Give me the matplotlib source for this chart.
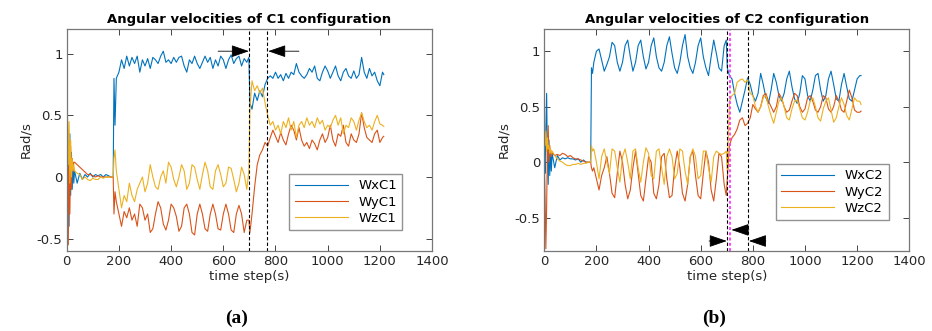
import numpy as np
import matplotlib
matplotlib.use("Agg")
import matplotlib.pyplot as plt

# time steps (same grid for every series)
t = np.r_[0:30:3, 30:180:10, [178, 181, 185], 190:700:10, [698, 702], 710:1220:10, [1215]]
t = np.sort(t)

# ---- C1 configuration ----
wx_c1 = [0.05, -0.55, 0.3, -0.4, 0.35, -0.15, 0.2, -0.1, 0.1, -0.05,
         0.05, -0.05, 0.03, -0.02, 0.02, 0.0, 0.03, 0.0, 0.02, 0.01, 0.02, 0.0, 0.02, 0.01, 0.0,
         0.0, 0.8, 0.42,
         0.8, 0.85, 0.95, 0.88, 0.98, 0.9, 0.97, 0.92, 0.98, 0.85, 0.95, 0.9, 0.96, 0.88, 0.97, 0.95,
         0.92, 0.98, 1.02, 0.93, 0.95, 0.92, 0.97, 0.93, 0.97, 0.98, 0.9, 0.85, 0.95, 0.92, 0.98, 0.92,
         0.88, 0.93, 0.98, 0.93, 0.97, 0.88, 0.95, 0.9, 0.98, 0.95, 0.88, 0.95, 0.99, 0.92, 0.96, 0.98,
         0.9, 0.96, 0.93,
         0.97, 0.6,
         0.55, 0.68, 0.62, 0.7, 0.65, 0.75, 0.8, 0.82, 0.8, 0.85, 0.8, 0.83, 0.78, 0.84, 0.8, 0.85,
         0.83, 0.92, 0.85, 0.82, 0.8, 0.83, 0.88, 0.85, 0.9, 0.8, 0.78, 0.85, 0.9, 0.86, 0.8, 0.85,
         0.9, 0.82, 0.78, 0.85, 0.88, 0.82, 0.8, 0.86, 0.8, 0.83, 0.97, 0.85, 0.8, 0.88, 0.82, 0.85,
         0.78, 0.74, 0.85,
         0.83]
wy_c1 = [0.0, 0.3, -0.55, 0.3, -0.3, 0.25, -0.1, 0.15, 0.05, 0.12,
         0.12, 0.1, 0.08, 0.06, 0.04, 0.02, 0.02, 0.01, 0.0, 0.01, 0.0, 0.0, 0.0, 0.0, 0.0,
         0.0, -0.3, -0.12,
         -0.2, -0.3, -0.4, -0.28, -0.33, -0.25, -0.35, -0.3, -0.4, -0.22, -0.25, -0.35, -0.3, -0.45,
         -0.42, -0.3, -0.2, -0.25, -0.38, -0.43, -0.35, -0.22, -0.25, -0.32, -0.44, -0.4, -0.25, -0.22,
         -0.3, -0.45, -0.47, -0.3, -0.22, -0.3, -0.42, -0.44, -0.3, -0.22, -0.3, -0.42, -0.43, -0.3,
         -0.22, -0.3, -0.43, -0.45, -0.3, -0.23, -0.3, -0.45, -0.35,
         -0.35, -0.45,
         -0.3, -0.08, 0.1, 0.18, 0.22, 0.28, 0.25, 0.32, 0.38, 0.33, 0.28, 0.36, 0.3, 0.26, 0.35, 0.42,
         0.38, 0.3, 0.4, 0.3, 0.25, 0.28, 0.23, 0.3, 0.27, 0.22, 0.3, 0.35, 0.28, 0.32, 0.42, 0.3,
         0.25, 0.35, 0.33, 0.42, 0.28, 0.25, 0.35, 0.3, 0.28, 0.35, 0.52, 0.4, 0.32, 0.3, 0.28, 0.35,
         0.38, 0.28, 0.32,
         0.33]
wz_c1 = [0.4, 0.5, 0.1, 0.45, -0.05, 0.3, 0.0, 0.15, 0.05, 0.1,
         0.05, 0.03, 0.02, -0.02, 0.0, -0.02, -0.03, -0.01, -0.02, -0.02, 0.0, -0.01, 0.0, 0.0, 0.0,
         0.0, 0.15, 0.22,
         0.05, -0.1, -0.25, -0.15, -0.2, -0.05, -0.15, -0.2, -0.1, -0.05, 0.0, -0.12, -0.05, 0.1, 0.0,
         -0.08, -0.1, 0.0, 0.05, -0.05, 0.12, 0.08, -0.02, -0.08, 0.0, 0.1, 0.05, -0.1, -0.05, 0.1,
         0.08, -0.02, -0.1, 0.02, 0.12, 0.05, -0.08, -0.1, 0.05, 0.1, 0.02, -0.08, -0.05, 0.08, 0.07,
         -0.02, -0.12, -0.05, 0.08, 0.02, -0.1,
         0.05, 0.55,
         0.78, 0.7, 0.74, 0.68, 0.72, 0.6, 0.5, 0.42, 0.45, 0.38, 0.42, 0.35, 0.45, 0.4, 0.48, 0.38,
         0.45, 0.32, 0.42, 0.45, 0.4, 0.48, 0.42, 0.45, 0.4, 0.48, 0.43, 0.46, 0.38, 0.42, 0.4, 0.46,
         0.5, 0.42, 0.48, 0.35, 0.42, 0.4, 0.48, 0.45, 0.38, 0.46, 0.52, 0.45, 0.4, 0.42, 0.38, 0.45,
         0.5, 0.43, 0.42,
         0.41]

# ---- C2 configuration ----
wx_c2 = [0.05, -0.1, 0.3, 0.62, 0.0, -0.2, 0.2, -0.12, 0.1, -0.08,
         0.08, -0.05, 0.06, 0.02, 0.04, 0.03, 0.04, 0.03, 0.03, 0.02, 0.03, 0.0, 0.02, 0.0, 0.0,
         0.0, 0.85, 0.8,
         0.9, 1.0, 1.02, 0.92, 0.82, 0.88, 0.95, 1.08, 1.05, 0.9, 0.82, 0.9, 1.05, 1.1, 0.95, 0.82,
         0.9, 1.05, 1.1, 0.95, 0.84, 0.9, 1.05, 1.12, 0.95, 0.85, 0.82, 0.9, 1.05, 1.13, 0.98, 0.85,
         0.8, 0.9, 1.05, 1.15, 0.95, 0.85, 0.8, 0.9, 1.05, 1.12, 0.95, 0.85, 0.78, 0.95, 1.1, 0.98,
         0.85, 0.82, 1.05,
         1.1, 0.85,
         0.78, 0.75, 0.62, 0.52, 0.45, 0.55, 0.65, 0.76, 0.7, 0.6, 0.55, 0.62, 0.8, 0.7, 0.58, 0.53,
         0.65, 0.8, 0.72, 0.6, 0.55, 0.62, 0.75, 0.82, 0.68, 0.57, 0.53, 0.62, 0.78, 0.75, 0.6, 0.55,
         0.65, 0.78, 0.8, 0.65, 0.55, 0.6, 0.75, 0.82, 0.7, 0.57, 0.55, 0.7, 0.8, 0.68, 0.57, 0.55,
         0.65, 0.75, 0.78,
         0.78]
wy_c2 = [0.0, -0.3, -0.78, -0.4, 0.1, 0.33, 0.0, 0.15, 0.05, 0.1,
         0.08, 0.06, 0.07, 0.06, 0.08, 0.07, 0.05, 0.06, 0.04, 0.03, 0.03, 0.02, 0.01, 0.0, 0.0,
         0.0, -0.05, -0.08,
         -0.05, -0.15, -0.25, -0.12, -0.05, 0.05, -0.1, -0.28, -0.32, -0.1, 0.1, 0.0, -0.2, -0.33,
         -0.25, -0.05, 0.1, -0.1, -0.3, -0.35, -0.15, 0.05, 0.0, -0.28, -0.33, -0.2, 0.05, 0.08,
         -0.15, -0.32, -0.3, -0.05, 0.1, -0.05, -0.28, -0.35, -0.2, 0.05, 0.1, -0.12, -0.3, -0.33,
         -0.1, 0.1, 0.0, -0.25, -0.35, -0.15, 0.08, 0.05, -0.2,
         -0.3, -0.15,
         0.15, 0.22, 0.25, 0.3, 0.38, 0.4, 0.33, 0.35, 0.4, 0.52, 0.48, 0.45, 0.5, 0.6, 0.62, 0.55,
         0.5, 0.45, 0.5, 0.62, 0.58, 0.5, 0.45, 0.47, 0.55, 0.62, 0.6, 0.5, 0.45, 0.48, 0.58, 0.6,
         0.55, 0.47, 0.45, 0.5, 0.6, 0.58, 0.48, 0.45, 0.5, 0.6, 0.55, 0.47, 0.45, 0.55, 0.65, 0.58,
         0.47, 0.45, 0.45,
         0.46]
wz_c2 = [0.3, 0.15, 0.28, 0.1, 0.22, 0.12, 0.15, 0.08, 0.12, 0.08,
         0.1, 0.06, 0.03, 0.01, 0.0, -0.02, -0.03, -0.03, -0.02, -0.02, -0.01, -0.02, -0.01, -0.01, 0.0,
         0.0, 0.15, 0.1,
         0.12, 0.0, -0.15, 0.05, 0.12, 0.0, -0.1, 0.12, 0.1, -0.05, -0.18, 0.05, 0.12, 0.0, -0.15,
         0.1, 0.12, -0.05, -0.18, 0.0, 0.13, 0.08, -0.12, -0.15, 0.1, 0.12, -0.05, -0.2, 0.05, 0.12,
         0.05, -0.15, -0.1, 0.12, 0.1, -0.08, -0.2, 0.05, 0.12, 0.05, -0.15, -0.12, 0.1, 0.1, -0.05,
         -0.18, 0.05, 0.1, 0.08, 0.07, 0.08,
         0.1, -0.08,
         0.55, 0.6, 0.62, 0.72, 0.74, 0.75, 0.72, 0.74, 0.62, 0.6, 0.5, 0.45, 0.5, 0.58, 0.6, 0.5,
         0.42, 0.35, 0.45, 0.55, 0.58, 0.5, 0.4, 0.38, 0.48, 0.55, 0.56, 0.48, 0.4, 0.38, 0.45, 0.55,
         0.58, 0.5, 0.4, 0.37, 0.48, 0.55, 0.58, 0.47, 0.36, 0.4, 0.5, 0.58, 0.52, 0.42, 0.38, 0.48,
         0.58, 0.55, 0.55,
         0.52]

xticks = [0, 200, 400, 600, 800, 1000, 1200, 1400]
yticks = [-0.5, 0, 0.5, 1]
colors = ["#0072BD", "#D95319", "#EDB120"]

fig = plt.figure(figsize=(9.32, 3.31), dpi=100)
ax1 = fig.add_axes([0.0716, 0.2417, 0.392, 0.6707])
ax2 = fig.add_axes([0.584, 0.2417, 0.3916, 0.6707])


def style(ax, ylim, title):
    ax.set_xlim(0, 1400)
    ax.set_ylim(*ylim)
    ax.set_xticks(xticks)
    ax.set_yticks(yticks)
    ax.set_yticklabels(["-0.5", "0", "0.5", "1"])
    ax.tick_params(direction="in", top=True, right=True, length=4, width=0.6,
                   labelsize=9.5, colors="#262626", pad=3)
    for s in ax.spines.values():
        s.set_color("#777777")
        s.set_linewidth(0.9)
    ax.set_title(title, fontsize=9.5, fontweight="bold", pad=4)
    ax.set_xlabel("time step(s)", fontsize=9.5, color="#262626", labelpad=1)
    ax.set_ylabel("Rad/s", fontsize=9.5, color="#262626", labelpad=3)


def arrow(ax, x0, x1, y):
    ax.annotate("", xy=(x1, y), xytext=(x0, y),
                arrowprops=dict(arrowstyle="-|>,head_length=1.1,head_width=0.38",
                                color="black", lw=0.6, mutation_scale=10,
                                shrinkA=0, shrinkB=0))


# left chart
for y, c, lab in zip([wx_c1, wy_c1, wz_c1], colors, ["WxC1", "WyC1", "WzC1"]):
    ax1.plot(t, y, color=c, lw=0.8, label=lab)
style(ax1, (-0.6, 1.2), "Angular velocities of C1 configuration")
for xv in [700, 768]:
    ax1.axvline(xv, color="black", lw=0.8, ls=(0, (3, 2)))
arrow(ax1, 580, 698, 1.02)
arrow(ax1, 890, 772, 1.02)
leg = ax1.legend(loc="upper right", bbox_to_anchor=(0.918, 0.347), fontsize=9.5,
                 handlelength=4.0, fancybox=False, borderaxespad=0, labelspacing=0.25)
leg.get_frame().set_edgecolor("#777777")
leg.get_frame().set_linewidth(1.0)

# right chart
for y, c, lab in zip([wx_c2, wy_c2, wz_c2], colors, ["WxC2", "WyC2", "WzC2"]):
    ax2.plot(t, y, color=c, lw=0.8, label=lab)
style(ax2, (-0.8, 1.2), "Angular velocities of C2 configuration")
for xv in [700, 782]:
    ax2.axvline(xv, color="black", lw=0.8, ls=(0, (3, 2)))
ax2.axvline(714, color="#ff44ff", lw=1.4, ls=(0, (1.5, 1.2)))
arrow(ax2, 632, 700, -0.71)
arrow(ax2, 785, 718, -0.61)
arrow(ax2, 850, 785, -0.71)
leg2 = ax2.legend(loc="upper right", bbox_to_anchor=(0.944, 0.392), fontsize=9.5,
                  handlelength=4.0, fancybox=False, borderaxespad=0, labelspacing=0.25)
leg2.get_frame().set_edgecolor("#777777")
leg2.get_frame().set_linewidth(1.0)

fig.text(236.7 / 932, 1 - 318 / 331, "(a)", ha="center", va="center", fontsize=14,
         fontweight="bold", family="Liberation Serif")
fig.text(714 / 932, 1 - 318 / 331, "(b)", ha="center", va="center", fontsize=14,
         fontweight="bold", family="Liberation Serif")

fig.savefig("out.png", dpi=100)
